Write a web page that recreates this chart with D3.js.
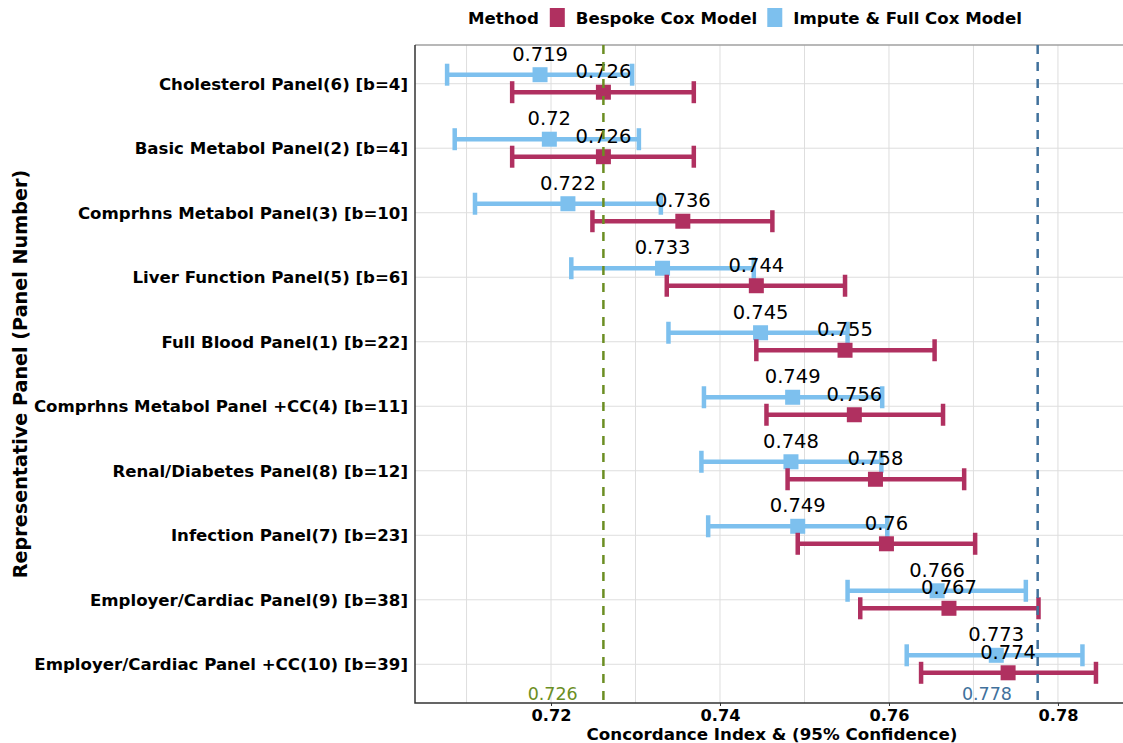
<!DOCTYPE html>
<html>
<head>
<meta charset="utf-8">
<script src="https://cdn.jsdelivr.net/npm/d3@7"></script>
<style>
  body { margin: 0; background: #fff; }
  svg { display: block; font-family: 'DejaVu Sans', sans-serif; }
</style>
</head>
<body>
<svg id="chart" width="1123" height="743"></svg>
<script>
const panels = [
  'Cholesterol Panel(6) [b=4]',
  'Basic Metabol Panel(2) [b=4]',
  'Comprhns Metabol Panel(3) [b=10]',
  'Liver Function Panel(5) [b=6]',
  'Full Blood Panel(1) [b=22]',
  'Comprhns Metabol Panel +CC(4) [b=11]',
  'Renal/Diabetes Panel(8) [b=12]',
  'Infection Panel(7) [b=23]',
  'Employer/Cardiac Panel(9) [b=38]',
  'Employer/Cardiac Panel +CC(10) [b=39]'
]

// Impute & Full Cox Model
const imputeEst = [0.7187, 0.7198, 0.7220, 0.7332, 0.7448, 0.7486, 0.7484, 0.7492, 0.7657, 0.7727]
const imputeLow = [0.7077, 0.7086, 0.7110, 0.7224, 0.7339, 0.7381, 0.7378, 0.7386, 0.7551, 0.7621]
const imputeHigh = [0.7296, 0.7304, 0.7330, 0.7440, 0.7551, 0.7592, 0.7591, 0.7598, 0.7762, 0.7829]

// Bespoke Cox Model
const bespokeEst = [0.7262, 0.7262, 0.7356, 0.7443, 0.7548, 0.7559, 0.7584, 0.7597, 0.7671, 0.7741]
const bespokeLow = [0.7154, 0.7154, 0.7249, 0.7337, 0.7443, 0.7455, 0.7480, 0.7492, 0.7566, 0.7638]
const bespokeHigh = [0.7369, 0.7369, 0.7462, 0.7548, 0.7654, 0.7664, 0.7689, 0.7702, 0.7777, 0.7845]

const xTicks = [0.72, 0.74, 0.76, 0.78]
const xMinorTicks = [0.71, 0.73, 0.75, 0.77]

// reference lines
const refLines = [
  { value: 0.7262, label: '0.726', color: '#6b8e23' },
  { value: 0.7776, label: '0.778', color: '#41719c' }
]

const methods = ['Bespoke Cox Model', 'Impute & Full Cox Model']
const methodColors = ['#b03060', '#7dc0ee']

const svg = d3.select('#chart')

const plotLeft = 415
const plotRight = 1123
const plotTop = 45
const plotBottom = 703

const x = d3.scaleLinear().domain([0.7039, 0.7877]).range([plotLeft, plotRight])
const y = d3.scalePoint().domain(panels).range([plotTop, plotBottom]).padding(0.6)

const fmt = v => String(+v.toFixed(3))

// grid
const grid = svg.append('g')
grid.selectAll('line.vx')
  .data(xTicks.concat(xMinorTicks))
  .join('line')
  .attr('x1', d => x(d)).attr('x2', d => x(d))
  .attr('y1', plotTop).attr('y2', plotBottom)
  .attr('stroke', '#dedede').attr('stroke-width', 1)
grid.selectAll('line.hy')
  .data(panels)
  .join('line')
  .attr('x1', plotLeft).attr('x2', plotRight)
  .attr('y1', d => y(d)).attr('y2', d => y(d))
  .attr('stroke', '#dedede').attr('stroke-width', 1)

// top border is grey
svg.append('line')
  .attr('x1', plotLeft).attr('x2', plotRight).attr('y1', plotTop).attr('y2', plotTop)
  .attr('stroke', '#a0a0a0').attr('stroke-width', 1.5)

// series
const series = [
  { name: methods[1], color: methodColors[1], dy: -9, est: imputeEst, low: imputeLow, high: imputeHigh },
  { name: methods[0], color: methodColors[0], dy: 8.5, est: bespokeEst, low: bespokeLow, high: bespokeHigh }
]

const capH = 22
const markSize = 15

for (const s of series) {
  const rows = panels.map((p, i) => ({ p, est: s.est[i], low: s.low[i], high: s.high[i] }))
  const g = svg.append('g').attr('stroke', s.color).attr('fill', s.color)

  g.selectAll('line.bar')
    .data(rows)
    .join('line')
    .attr('class', 'bar')
    .attr('x1', d => x(d.low)).attr('x2', d => x(d.high))
    .attr('y1', d => y(d.p) + s.dy).attr('y2', d => y(d.p) + s.dy)
    .attr('stroke-width', 4.5)

  for (const key of ['low', 'high']) {
    g.selectAll('line.cap-' + key)
      .data(rows)
      .join('line')
      .attr('class', 'cap-' + key)
      .attr('x1', d => x(d[key])).attr('x2', d => x(d[key]))
      .attr('y1', d => y(d.p) + s.dy - capH / 2)
      .attr('y2', d => y(d.p) + s.dy + capH / 2)
      .attr('stroke-width', 4.5)
  }

  g.selectAll('rect')
    .data(rows)
    .join('rect')
    .attr('stroke', 'none')
    .attr('x', d => x(d.est) - markSize / 2)
    .attr('y', d => y(d.p) + s.dy - markSize / 2)
    .attr('width', markSize).attr('height', markSize)
}

// value labels
for (const s of series) {
  svg.append('g')
    .selectAll('text')
    .data(panels.map((p, i) => ({ p, est: s.est[i] })))
    .join('text')
    .attr('x', d => x(d.est))
    .attr('y', d => y(d.p) + s.dy - 14)
    .attr('text-anchor', 'middle')
    .attr('font-size', 19.5)
    .attr('fill', '#000')
    .text(d => fmt(d.est))
}

// reference lines
const ref = svg.append('g')
ref.selectAll('line')
  .data(refLines)
  .join('line')
  .attr('x1', d => x(d.value)).attr('x2', d => x(d.value))
  .attr('y1', plotTop).attr('y2', plotBottom)
  .attr('stroke', d => d.color)
  .attr('stroke-width', 2.5)
  .attr('stroke-dasharray', '9,8')
ref.selectAll('text')
  .data(refLines)
  .join('text')
  .attr('x', d => x(d.value - 0.006))
  .attr('y', 700)
  .attr('text-anchor', 'middle')
  .attr('font-size', 17.5)
  .attr('fill', d => d.color)
  .text(d => d.label)

// axes
const xAxis = svg.append('g')
  .attr('transform', `translate(0,${plotBottom})`)
  .call(d3.axisBottom(x).tickValues(xTicks).tickFormat(d3.format('.2f')).tickSize(3).tickPadding(3))
xAxis.select('.domain').remove()
xAxis.selectAll('line').attr('stroke', '#333')
xAxis.selectAll('text')
  .attr('font-family', 'DejaVu Sans').attr('font-size', 16.2).attr('font-weight', 'bold').attr('fill', '#000')

const yAxis = svg.append('g')
  .attr('transform', `translate(${plotLeft},0)`)
  .call(d3.axisLeft(y).tickSize(0).tickPadding(7))
yAxis.select('.domain').remove()
yAxis.selectAll('text')
  .attr('font-family', 'DejaVu Sans').attr('font-size', 16.6).attr('font-weight', 'bold').attr('fill', '#000')

svg.append('path')
  .attr('d', `M${plotLeft},${plotTop}V${plotBottom}H${plotRight}`)
  .attr('fill', 'none').attr('stroke', '#333').attr('stroke-width', 1.5)

// axis titles
svg.append('text')
  .attr('x', (plotLeft + plotRight) / 2 + 3)
  .attr('y', 739.5)
  .attr('text-anchor', 'middle')
  .attr('font-size', 16.7).attr('font-weight', 'bold')
  .text('Concordance Index & (95% Confidence)')

svg.append('text')
  .attr('transform', `translate(27,${(plotTop + plotBottom) / 2}) rotate(-90)`)
  .attr('text-anchor', 'middle')
  .attr('font-size', 19.2).attr('font-weight', 'bold')
  .text('Representative Panel (Panel Number)')

// legend
const legend = svg.append('g').attr('transform', 'translate(468,24)')
let lx = 0
const title = legend.append('text').attr('x', lx).attr('font-size', 16.6).attr('font-weight', 'bold').text('Method')
lx += title.node().getComputedTextLength() + 11
methods.forEach((m, i) => {
  legend.append('rect')
    .attr('x', lx).attr('y', -16).attr('width', 15).attr('height', 19)
    .attr('fill', methodColors[i])
  lx += 15 + 11
  const t = legend.append('text').attr('x', lx).attr('font-size', 16.6).attr('font-weight', 'bold').text(m)
  lx += t.node().getComputedTextLength() + 10
})
</script>
</body>
</html>
